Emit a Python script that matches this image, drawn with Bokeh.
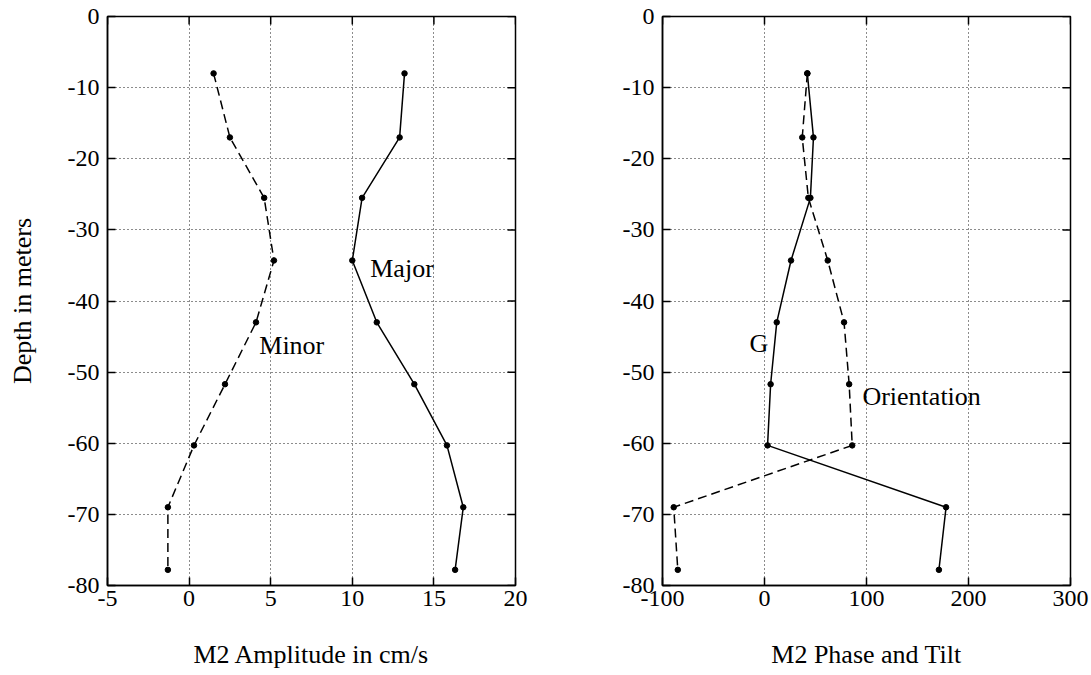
import math
from bokeh.plotting import figure
from bokeh.layouts import row
from bokeh.models import Range1d, FixedTicker, Label, PrintfTickFormatter
from bokeh.embed import file_html
from bokeh.resources import INLINE

# ---- data ----
depth = [-8, -17, -25.5, -34.3, -43, -51.7, -60.3, -69, -77.8]
minor_amp = [1.5, 2.5, 4.6, 5.2, 4.1, 2.2, 0.3, -1.3, -1.3]
major_amp = [13.2, 12.9, 10.6, 10.0, 11.5, 13.8, 15.8, 16.8, 16.3]
g_phase = [42, 48, 45, 26, 12, 6, 3, 178, 171]
orientation = [42, 37, 43, 62, 78, 83, 86, -89, -85]

amp_ticks = [-5, 0, 5, 10, 15, 20]
phase_ticks = [-100, 0, 100, 200, 300]
depth_ticks = [-80, -70, -60, -50, -40, -30, -20, -10, 0]

FONT = "Liberation Serif"
TICK_FS = "24px"
LABEL_FS = "26px"
TEXT_FS = "26px"


def style(p, xticks, yticks, xlabel, ylabel=None):
    p.outline_line_color = "black"
    p.outline_line_width = 1.5
    xax = p.below[0]
    yax = p.left[0]
    xax.ticker = FixedTicker(ticks=xticks)
    yax.ticker = FixedTicker(ticks=yticks)
    p.xgrid.ticker = FixedTicker(ticks=xticks)
    p.ygrid.ticker = FixedTicker(ticks=yticks)
    for g in (p.xgrid, p.ygrid):
        g.grid_line_color = "black"
        g.grid_line_dash = "1 3"
        g.grid_line_width = 1
        g.grid_line_alpha = 0.9
    for ax in (xax, yax):
        ax.formatter = PrintfTickFormatter(format="%d")
        ax.major_tick_in = 8
        ax.major_tick_out = 0
        ax.minor_tick_in = 0
        ax.minor_tick_out = 0
        ax.axis_line_color = "black"
        ax.axis_line_width = 1.5
        ax.major_tick_line_color = "black"
        ax.major_tick_line_width = 1.5
        ax.major_label_text_font = FONT
        ax.major_label_text_font_size = TICK_FS
        ax.major_label_text_color = "black"
        ax.axis_label_text_font = FONT
        ax.axis_label_text_font_size = LABEL_FS
        ax.axis_label_text_font_style = "normal"
        ax.axis_label_text_color = "black"
    xax.major_label_standoff = 5
    yax.major_label_standoff = 8
    xax.axis_label = xlabel
    xax.axis_label_standoff = 31
    if ylabel:
        yax.axis_label = ylabel
        yax.axis_label_standoff = 28
    # mirrored inward ticks on top and right edges (clipped to the frame)
    top = p.y_range.end
    right = p.x_range.end
    p.scatter(x=xticks, y=[top] * len(xticks), marker="dash", angle=math.pi / 2,
              size=16, line_color="black", line_width=1.5)
    p.scatter(x=[right] * len(yticks), y=yticks, marker="dash",
              size=16, line_color="black", line_width=1.5)


def add_label(p, x, y, text):
    p.add_layout(Label(x=x, y=y, text=text, text_font=FONT, text_font_size=TEXT_FS,
                       text_baseline="middle", text_align="left", text_color="black"))


p1 = figure(width=540, height=675, x_range=Range1d(-5, 20), y_range=Range1d(-80, 0),
            output_backend="svg", toolbar_location=None,
            min_border_left=107, min_border_right=25, min_border_top=16, min_border_bottom=90)
style(p1, amp_ticks, depth_ticks, "M2 Amplitude in cm/s", "Depth in meters")

p1.line(minor_amp, depth, line_color="black", line_width=1.5, line_dash="9 5")
p1.scatter(minor_amp, depth, size=5.5, color="black")
p1.line(major_amp, depth, line_color="black", line_width=1.5)
p1.scatter(major_amp, depth, size=5.5, color="black")
add_label(p1, 11.1, -35.4, "Major")
add_label(p1, 4.3, -46.2, "Minor")

p2 = figure(width=551, height=675, x_range=Range1d(-100, 300), y_range=Range1d(-80, 0),
            output_backend="svg", toolbar_location=None,
            min_border_left=122, min_border_right=21, min_border_top=16, min_border_bottom=90)
style(p2, phase_ticks, depth_ticks, "M2 Phase and Tilt")

p2.line(orientation, depth, line_color="black", line_width=1.5, line_dash="9 5")
p2.scatter(orientation, depth, size=5.5, color="black")
p2.line(g_phase, depth, line_color="black", line_width=1.5)
p2.scatter(g_phase, depth, size=5.5, color="black")
add_label(p2, -14.7, -46, "G")
add_label(p2, 96, -53.4, "Orientation")

layout = row(p1, p2)
open("out.html", "w").write(file_html(layout, INLINE))
